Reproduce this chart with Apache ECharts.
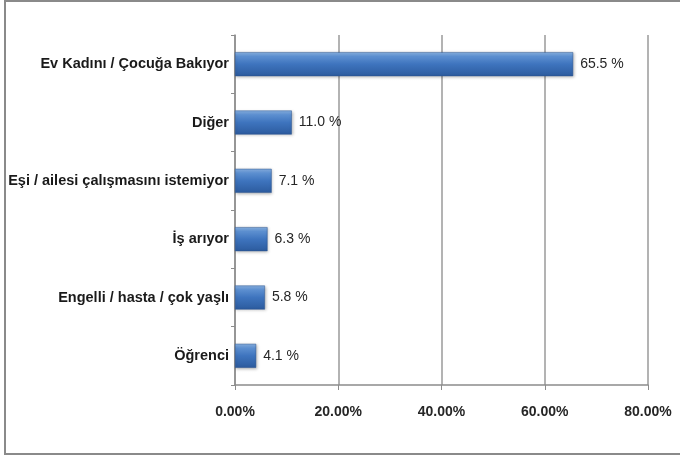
<!DOCTYPE html>
<html><head><meta charset="utf-8">
<script src="https://cdn.jsdelivr.net/npm/echarts@6/dist/echarts.min.js"></script>
<style>html,body{margin:0;padding:0;background:#fff}#c{width:680px;height:456px}</style>
</head><body><div id="c"></div>
<script>
const categories = ["Ev Kadını / Çocuğa Bakıyor", "Diğer", "Eşi / ailesi çalışmasını istemiyor", "İş arıyor", "Engelli / hasta / çok yaşlı", "Öğrenci"];
const values = [65.5, 11.0, 7.1, 6.3, 5.8, 4.1];
const xTicks = [0, 20, 40, 60, 80];

const chart = echarts.init(document.getElementById('c'));
chart.setOption({
  animation: false,
  backgroundColor: '#fff',
  graphic: [{
    type: 'rect', shape: {x: 5, y: 1, width: 700, height: 453},
    style: {fill: 'none', stroke: '#8a8a8a', lineWidth: 2}, silent: true, z: -1
  }],
  grid: {left: 235, right: 32, top: 35, bottom: 71, containLabel: false},
  xAxis: {
    type: 'value', min: xTicks[0], max: xTicks[xTicks.length - 1], interval: 20,
    axisLine: {show: true, lineStyle: {color: '#8c8c8c', width: 1.5}},
    axisTick: {show: true, length: 5, lineStyle: {color: '#8c8c8c'}},
    splitLine: {show: true, lineStyle: {color: '#9a9a9a', width: 1.5}},
    axisLabel: {margin: 20, fontFamily: 'Liberation Sans, Arial, sans-serif', fontWeight: 'bold', fontSize: 14, color: '#262626',
      formatter: v => v.toFixed(2) + '%'}
  },
  yAxis: {
    type: 'category', data: categories, inverse: true,
    axisLine: {show: true, lineStyle: {color: '#8c8c8c', width: 1.5}},
    axisTick: {show: true, length: 4, lineStyle: {color: '#8c8c8c'}},
    axisLabel: {margin: 6, fontFamily: 'Liberation Sans, Arial, sans-serif', fontWeight: 'bold', fontSize: 14.5, color: '#1a1a1a'}
  },
  series: [{
    type: 'bar', data: values, barWidth: 24,
    itemStyle: {
      color: new echarts.graphic.LinearGradient(0, 0, 0, 1, [
        {offset: 0, color: '#8ab4e6'},
        {offset: 0.18, color: '#5c8fd0'},
        {offset: 0.5, color: '#3e74be'},
        {offset: 1, color: '#2c5b9e'}
      ]),
      borderColor: '#2a5590', borderWidth: 0.5,
      shadowColor: 'rgba(0,0,0,0.25)', shadowBlur: 3, shadowOffsetX: 1, shadowOffsetY: 1
    },
    label: {show: true, position: 'right', distance: 7, fontFamily: 'Liberation Sans, Arial, sans-serif', fontSize: 14, color: '#262626',
      formatter: p => p.value.toFixed(1) + ' %'}
  }]
});
</script></body></html>
